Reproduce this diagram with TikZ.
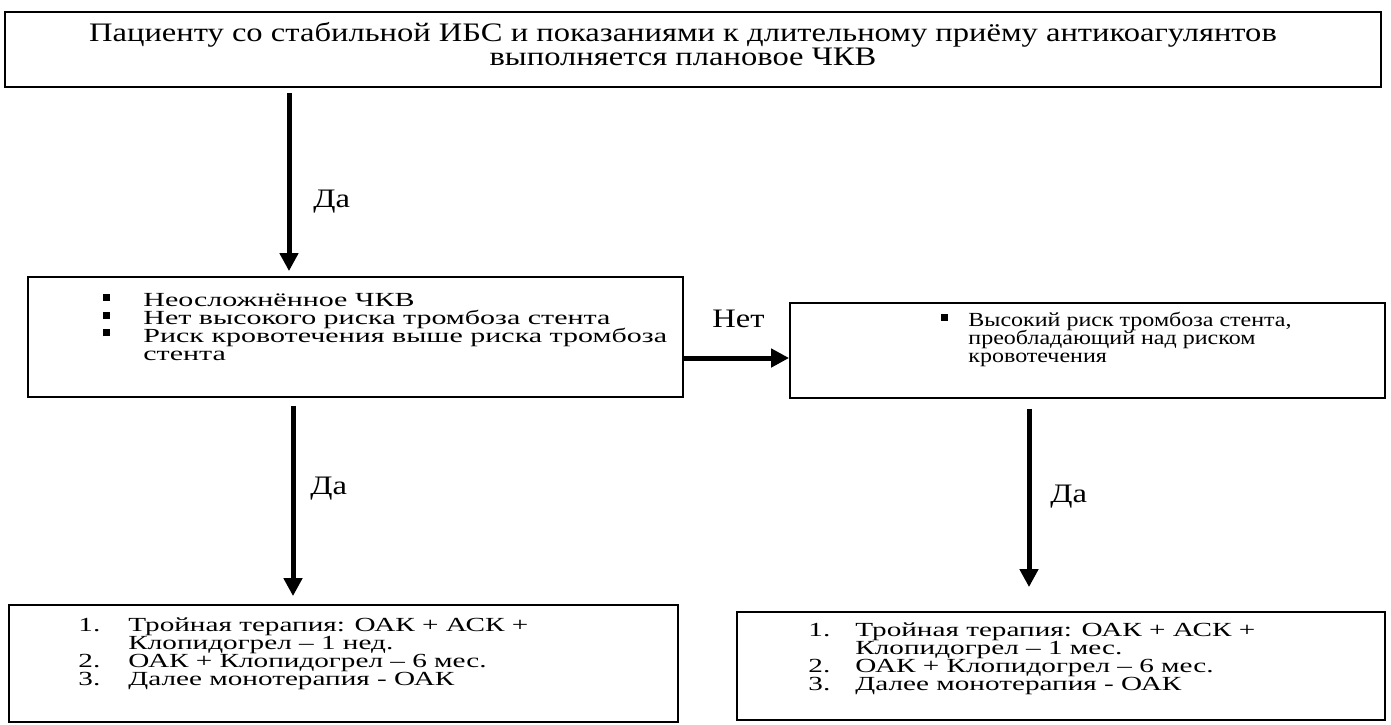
\documentclass[tikz,border=0pt]{standalone}
\usepackage{fontspec}
\setmainfont{Liberation Serif}
\newfontfamily\headfont[FakeStretch=1.22]{Liberation Serif}
\newfontfamily\bodyfont[FakeStretch=1.5]{Liberation Serif}
\newfontfamily\sidefont[FakeStretch=1.2]{Liberation Serif}
\newfontfamily\planfont[FakeStretch=1.46]{Liberation Serif}
\usetikzlibrary{arrows.meta,positioning}

% square bullet and number cells of a given width
\newcommand{\sqbul}[1]{\makebox[#1][l]{\raisebox{3pt}{\rule{3.5pt}{3.5pt}}}}
\newcommand{\numit}[2]{\makebox[#1][l]{#2}}
\newcommand{\headsize}{\fontsize{13.35}{12}\selectfont\lineskiplimit=-20pt\relax}
\newcommand{\bodysize}{\fontsize{10}{8.85}\selectfont\lineskiplimit=-20pt\relax}

\begin{document}
\begin{tikzpicture}
[x=0.5pt,y=-0.5pt,
box/.style={rectangle,draw=black,line width=0.9pt,inner sep=0pt},
headtext/.style={inner sep=0pt,align=center,font=\headfont\headsize},
bodytext/.style={inner sep=0pt,align=left,anchor=base west,font=#1\bodysize},
answer/.style={inner sep=0pt,anchor=base west,font=\headfont\headsize},
post/.style={-{Triangle[length=9pt,width=9pt]},line width=2.5pt}]

\useasboundingbox (0,0) rectangle (1391,724);

% boxes
\node[box,minimum width=688pt,minimum height=37.5pt] (start) at (693,49.5) {};
\node[box,minimum width=327.5pt,minimum height=60pt] (lowrisk) at (355.5,337) {};
\node[box,minimum width=297.5pt,minimum height=47.5pt] (highrisk) at (1087.5,350.5) {};
\node[box,minimum width=334.5pt,minimum height=58.5pt] (planA) at (343.5,663.5) {};
\node[box,minimum width=324pt,minimum height=54pt] (planB) at (1061,666) {};

% texts (anchor = baseline of the last line)
\node[headtext,anchor=base] (starttext) at (683,65)
  {Пациенту со стабильной ИБС и показаниями к длительному приёму антикоагулянтов\\
   выполняется плановое ЧКВ};
\node[bodytext=\bodyfont] (lowrisktext) at (103,360)
  {\sqbul{20pt}Неосложнённое ЧКВ\\
   \sqbul{20pt}Нет высокого риска тромбоза стента\\
   \sqbul{20pt}Риск кровотечения выше риска тромбоза\\
   \hspace*{20pt}стента};
\node[bodytext=\sidefont] (highrisktext) at (941,362)
  {\sqbul{13.5pt}Высокий риск тромбоза стента,\\
   \hspace*{13.5pt}преобладающий над риском\\
   \hspace*{13.5pt}кровотечения};
\node[bodytext=\planfont] (planAtext) at (78,685)
  {\numit{25pt}{1.}Тройная терапия: ОАК + АСК +\\
   \hspace*{25pt}Клопидогрел – 1 нед.\\
   \numit{25pt}{2.}ОАК + Клопидогрел – 6 мес.\\
   \numit{25pt}{3.}Далее монотерапия - ОАК};
\node[bodytext=\planfont] (planBtext) at (808,690)
  {\numit{23.5pt}{1.}Тройная терапия: ОАК + АСК +\\
   \hspace*{23.5pt}Клопидогрел – 1 мес.\\
   \numit{23.5pt}{2.}ОАК + Клопидогрел – 6 мес.\\
   \numit{23.5pt}{3.}Далее монотерапия - ОАК};

% connectors
\draw[post,shorten <=2.5pt,shorten >=2.5pt] (start.south -| 289,0) -- (lowrisk.north -| 289,0);
\draw[post] (lowrisk.east |- 0,358) -- (highrisk.west |- 0,358);
\draw[post,shorten <=4pt,shorten >=4pt] (lowrisk.south -| 293,0) -- (planA.north -| 293,0);
\draw[post,shorten <=5pt,shorten >=12pt] (highrisk.south -| 1029,0) -- (planB.north -| 1029,0);

% answers
\node[answer] (yes1) at (313,207) {Да};
\node[answer] (no1) at (712,327) {Нет};
\node[answer] (yes2) at (310,494) {Да};
\node[answer] (yes3) at (1050,502) {Да};

\end{tikzpicture}
\end{document}
